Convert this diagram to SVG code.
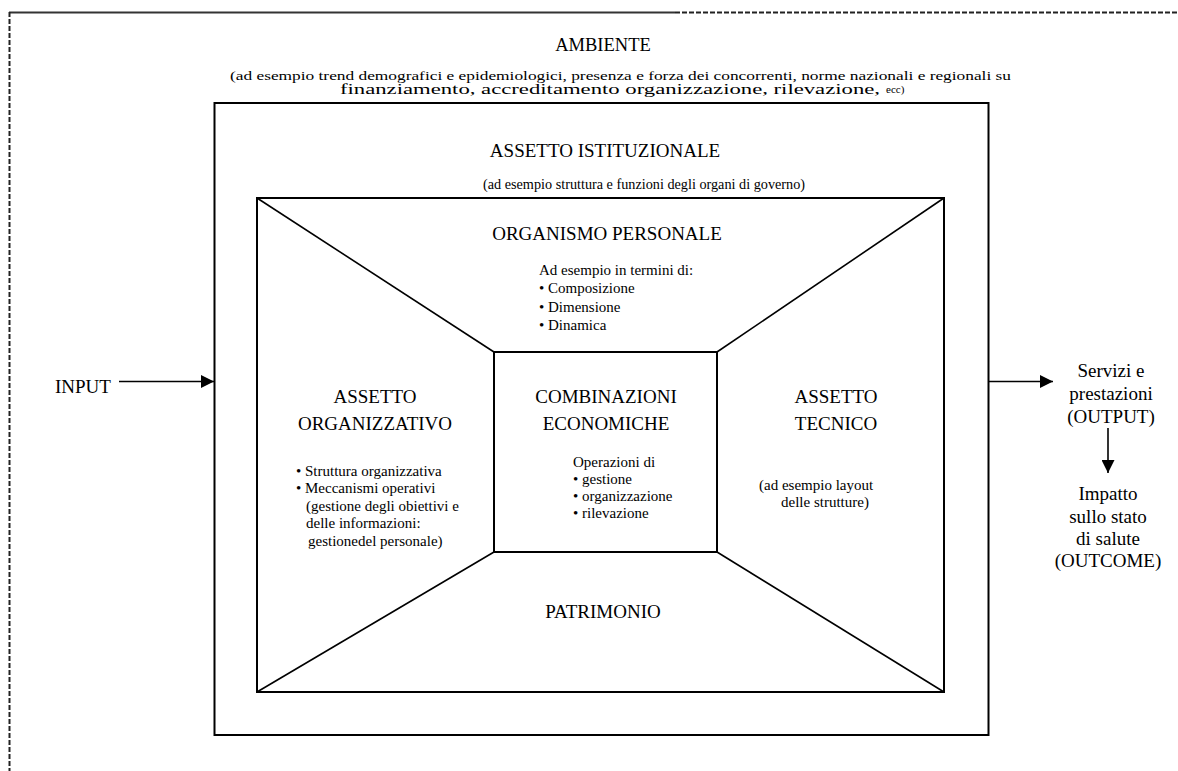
<svg xmlns="http://www.w3.org/2000/svg" width="1178" height="771" viewBox="0 0 1178 771">
<defs>
<style>
text{font-family:"Liberation Serif","Times New Roman",serif;fill:#000}
.t{font-size:19px}
.b{font-size:15px}
.s{font-size:13.5px}
.r{font-size:19px}
.box{fill:none;stroke:#000;stroke-width:2}
.ln{stroke:#000;stroke-width:1.6;fill:none}
.c{text-anchor:middle}
</style>
<marker id="ah" viewBox="0 0 10 10" refX="10" refY="5" markerWidth="13" markerHeight="13" markerUnits="userSpaceOnUse" orient="auto">
<path d="M0,0 L10,5 L0,10 z" fill="#000"/>
</marker>
</defs>
<rect width="1178" height="771" fill="#fff"/>
<g id="frame">
<line x1="9" y1="12.5" x2="675" y2="12.5" stroke="#333" stroke-width="2"/>
<line x1="675" y1="12.5" x2="1178" y2="12.5" stroke="#222" stroke-width="2" stroke-dasharray="5,2"/>
<line x1="9.5" y1="12" x2="9.5" y2="771" stroke="#222" stroke-width="2" stroke-dasharray="5,2"/>
</g>
<g id="ambiente">
<text class="c" x="603" y="51" font-size="18.5">AMBIENTE</text>
<text class="s" x="230" y="80" textLength="781" lengthAdjust="spacingAndGlyphs">(ad esempio trend demografici e  epidemiologici, presenza e forza dei concorrenti, norme nazionali e regionali su</text>
<text x="340" y="94" font-size="14" textLength="540" lengthAdjust="spacingAndGlyphs">finanziamento, accreditamento organizzazione, rilevazione,</text>
<text x="886" y="93" font-size="11">ecc)</text>
</g>
<g id="assetto-istituzionale">
<rect class="box" x="214.5" y="103" width="774" height="632" stroke-width="1.6"/>
<text class="t c" x="605" y="157">ASSETTO ISTITUZIONALE</text>
<text x="483" y="189" font-size="14.5" textLength="322" lengthAdjust="spacingAndGlyphs">(ad esempio struttura e funzioni degli organi di governo)</text>
</g>
<g id="struttura-interna">
<rect class="box" x="257" y="198" width="687" height="494"/>
<line class="ln" x1="257" y1="198" x2="494" y2="352"/>
<line class="ln" x1="944" y1="198" x2="717" y2="352"/>
<line class="ln" x1="257" y1="692" x2="494" y2="552"/>
<line class="ln" x1="944" y1="692" x2="717" y2="552"/>
</g>
<g id="organismo-personale">
<text class="t c" x="607" y="240">ORGANISMO PERSONALE</text>
<text class="b" x="539" y="275">Ad esempio in termini di:</text>
<text class="b" x="539" y="293">• Composizione</text>
<text class="b" x="539" y="312">• Dimensione</text>
<text class="b" x="539" y="330">• Dinamica</text>
</g>
<g id="combinazioni-economiche">
<rect class="box" x="494" y="352" width="223" height="200"/>
<text class="t c" x="606" y="403">COMBINAZIONI</text>
<text class="t c" x="606" y="430">ECONOMICHE</text>
<text class="b" x="573" y="467">Operazioni di</text>
<text class="b" x="573" y="484">• gestione</text>
<text class="b" x="573" y="501">• organizzazione</text>
<text class="b" x="573" y="518">• rilevazione</text>
</g>
<g id="assetto-organizzativo">
<text class="t c" x="375" y="403">ASSETTO</text>
<text class="t c" x="375" y="430">ORGANIZZATIVO</text>
<text class="b" x="296" y="476">• Struttura organizzativa</text>
<text class="b" x="296" y="493">• Meccanismi operativi</text>
<text class="b" x="306" y="511">(gestione degli obiettivi e</text>
<text class="b" x="306" y="528">delle informazioni:</text>
<text class="b" x="308" y="546">gestionedel personale)</text>
</g>
<g id="assetto-tecnico">
<text class="t c" x="836" y="403">ASSETTO</text>
<text class="t c" x="836" y="430">TECNICO</text>
<text class="b" x="759" y="490">(ad esempio layout</text>
<text class="b" x="781" y="507">delle strutture)</text>
</g>
<g id="patrimonio">
<text class="t c" x="603" y="618">PATRIMONIO</text>
</g>
<g id="input">
<text class="t" x="55" y="393">INPUT</text>
</g>
<g id="output">
<text class="r c" x="1111" y="377">Servizi e</text>
<text class="r c" x="1111" y="400">prestazioni</text>
<text class="r c" x="1111" y="423">(OUTPUT)</text>
</g>
<g id="outcome">
<text class="r c" x="1108" y="500">Impatto</text>
<text class="r c" x="1108" y="523">sullo stato</text>
<text class="r c" x="1108" y="545">di salute</text>
<text class="r c" x="1108" y="567">(OUTCOME)</text>
</g>
<g id="connectors">
<line class="ln" x1="119" y1="381.5" x2="214" y2="381.5" marker-end="url(#ah)"/>
<line class="ln" x1="989" y1="381.5" x2="1053" y2="381.5" marker-end="url(#ah)"/>
<line class="ln" x1="1108" y1="428" x2="1108" y2="473" marker-end="url(#ah)"/>
</g>
</svg>
